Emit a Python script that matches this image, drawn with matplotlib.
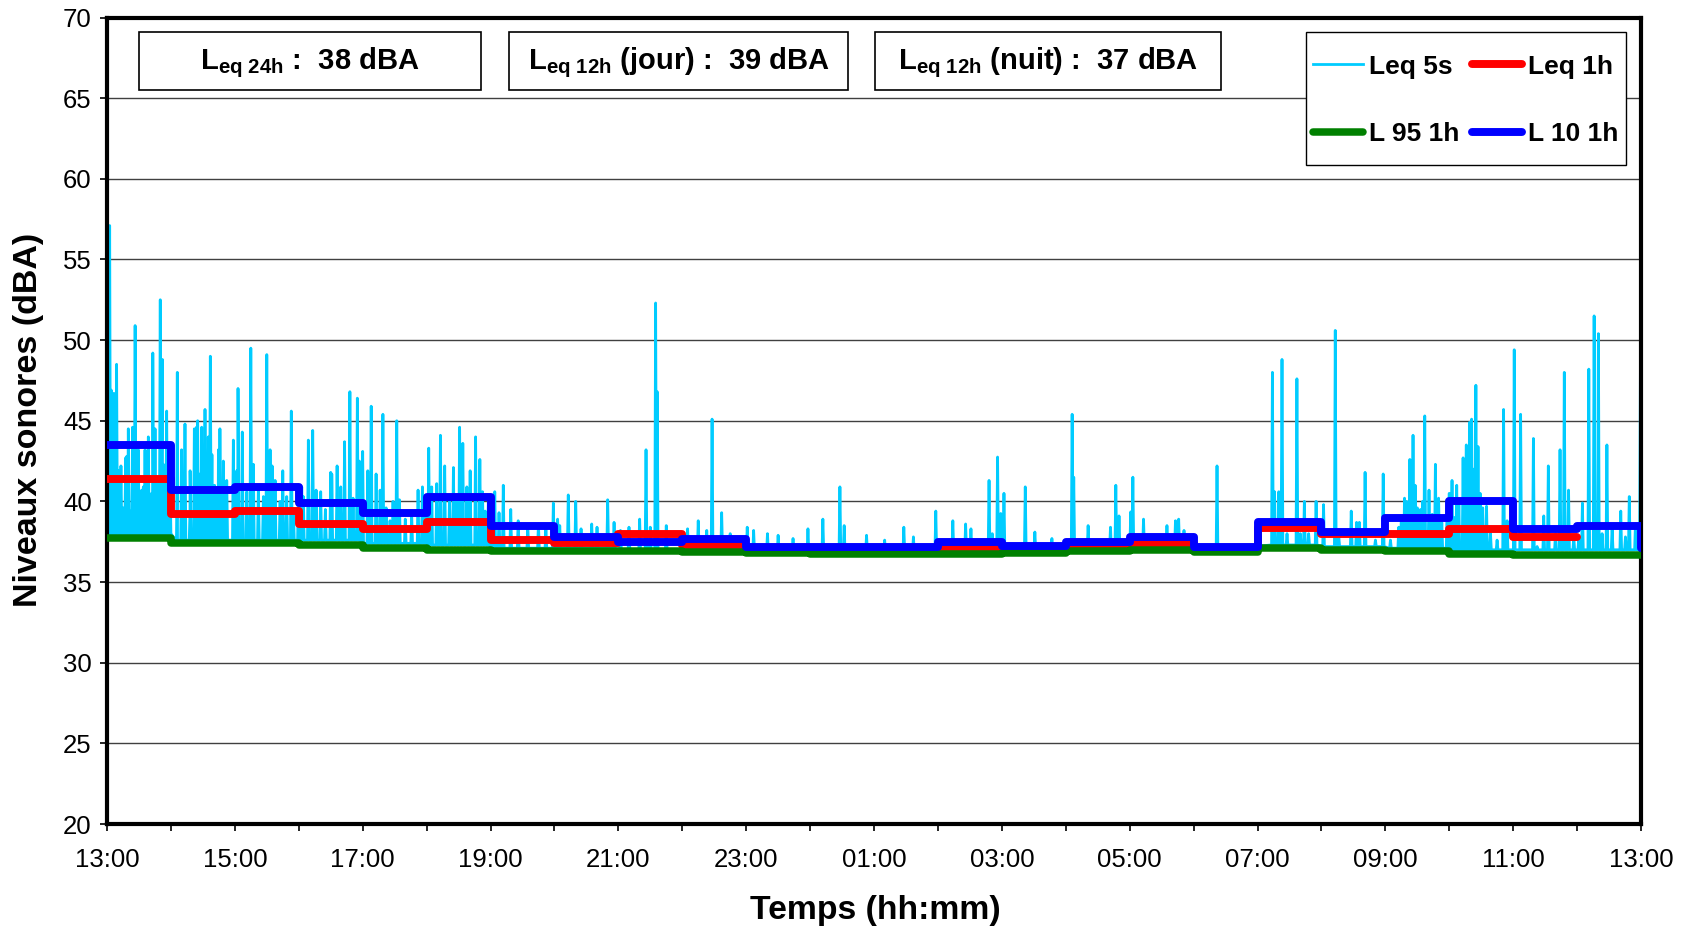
import numpy as np
import matplotlib.pyplot as plt
from matplotlib.patches import Rectangle

plt.rcParams['font.family'] = ['Liberation Sans', 'DejaVu Sans']
plt.rcParams['mathtext.fontset'] = 'custom'
plt.rcParams['mathtext.rm'] = 'Liberation Sans:bold'
plt.rcParams['mathtext.it'] = 'Liberation Sans:bold'
plt.rcParams['mathtext.bf'] = 'Liberation Sans:bold'

# temps en minutes depuis 13:00
heures = np.arange(0, 24 * 60 + 1, 60)
ticks_min = np.arange(0, 24 * 60 + 1, 120)
tick_labels = ["13:00", "15:00", "17:00", "19:00", "21:00", "23:00", "01:00",
               "03:00", "05:00", "07:00", "09:00", "11:00", "13:00"]

# indices horaires (13h -> 12h), + valeur finale a 13h
l10_1h = [43.5, 40.7, 40.9, 39.9, 39.3, 40.3, 38.5, 37.8, 37.5, 37.65, 37.2, 37.2,
          37.2, 37.5, 37.25, 37.5, 37.8, 37.2, 38.7, 38.1, 39.0, 40.0, 38.3, 38.45, 37.1]
leq_1h = [41.4, 39.2, 39.4, 38.6, 38.3, 38.7, 37.6, 37.4, 38.0, 37.3, 37.0, 37.05,
          37.0, 37.15, 37.0, 37.25, 37.35, 37.0, 38.35, 38.0, 38.0, 38.3, 37.8]
l95_1h = [37.7, 37.4, 37.4, 37.3, 37.1, 37.0, 36.9, 36.9, 36.9, 36.85, 36.8, 36.75,
          36.75, 36.75, 36.8, 36.9, 37.0, 36.85, 37.1, 37.0, 36.9, 36.75, 36.7, 36.7, 36.7]

# niveau de fond du Leq 5s par heure
fond_5s = [38.0, 37.6, 37.6, 37.6, 37.4, 37.3, 37.1, 37.1, 37.0, 37.0, 36.9, 36.9,
           36.9, 37.0, 37.0, 37.1, 37.2, 37.0, 37.3, 37.2, 37.1, 37.0, 37.0, 37.0]

# pics du Leq 5s (minute, dBA)
pics_13_16 = [(2.5, 57.1), (4, 46.9), (5.0, 42.5), (6.5, 46.7), (9, 48.5), (10.6, 41.9),
              (13.1, 42.2), (15.3, 39.6), (17.5, 42.7), (18.6, 42.8), (20.0, 44.5),
              (21.6, 39.4), (24, 44.6), (26.4, 50.9), (29.4, 43.2), (32.6, 40.7),
              (34.1, 40.9), (35.7, 43.2), (37.3, 40.3), (38.8, 44.0), (41.9, 40.5),
              (43, 49.2), (45.1, 44.5), (47.6, 41.1), (50, 52.5), (51.3, 43.0), (52, 48.8),
              (52.9, 42.3), (56, 45.6), (59.2, 41.5), (65.4, 39.1), (66, 48.0), (70, 43.2),
              (73.2, 44.8), (77.9, 39.4), (78.0, 41.9), (82.0, 44.5), (84, 44.6),
              (85.1, 45.0), (87.3, 41.7), (88.9, 44.6), (92, 45.7), (95.1, 44.0), (97, 49.0),
              (98.5, 42.9), (99.9, 40.3), (101, 41.0), (103.5, 40.8), (104.6, 43.2),
              (106, 44.5), (109.2, 42.5), (112.4, 41.3), (118.6, 43.8), (121.8, 41.9),
              (123, 47.0), (127, 44.3), (131.2, 40.6), (135, 49.5), (137.4, 42.3),
              (142.1, 40.9), (146.8, 40.3), (150, 49.1), (153.1, 43.2), (155, 42.2),
              (157.8, 41.3), (162.5, 40.0), (165, 41.9), (168.7, 40.3), (173, 45.6),
              (175.0, 39.4), (179.7, 40.9)]
pics_16_19 = [(182.8, 40.9), (184.3, 40.3), (189, 43.8), (193.1, 44.4), (196.3, 40.7),
              (200.6, 40.6), (205, 39.5), (210, 41.8), (211.0, 41.7), (216, 42.2),
              (219.4, 40.9), (223, 43.7), (228, 46.8), (231, 40.2), (235, 46.4),
              (236.9, 42.5), (240, 43.1), (244.8, 41.9), (248, 45.9), (252.6, 41.7),
              (256.4, 40.7), (259, 45.4), (262, 39.6), (265.7, 38.8), (268.5, 40.0),
              (272, 45.0), (274.5, 40.1), (280, 38.9), (286, 39.2), (292, 40.7),
              (296.1, 40.9), (299, 39.5), (302, 43.3), (304.8, 40.9), (309.5, 41.1),
              (313, 44.1), (317, 42.2), (321.5, 40.1), (325.2, 42.1), (328, 40.3),
              (331, 44.6), (334, 43.6), (337.8, 40.9), (340.9, 41.9), (346, 44.0),
              (350, 42.6), (352.5, 40.6), (355.0, 39.4), (358, 40.2), (361.2, 39.8)]
pics_19_01 = [(364, 40.6), (368, 39.3), (372, 41.0), (379, 39.5), (386, 38.8), (395, 38.5),
              (405, 38.6), (412, 38.3), (419, 39.9), (423, 38.9), (425, 38.5), (433, 40.4),
              (440, 40.0), (445, 38.3), (455, 38.6), (460, 38.4), (470, 40.1), (476, 38.7),
              (482, 38.2), (490, 38.4), (500, 38.9), (506, 43.2), (510, 38.4), (515, 52.3),
              (516.5, 46.8), (525, 38.5), (545, 38.3), (555, 38.8), (563, 38.2), (568, 45.1),
              (577, 39.3), (585, 38.0), (601, 38.4), (607, 38.2), (620, 38.0), (630, 37.9),
              (644, 37.7), (658, 38.3), (672, 38.9), (688, 40.9), (692, 38.5), (713, 37.9)]
pics_01_07 = [(730, 37.6), (748, 38.4), (757, 37.8), (778, 39.4), (794, 38.8), (806, 38.6),
              (811, 38.3), (828, 41.3), (831, 38.0), (836, 42.75), (839, 39.25), (842, 40.5),
              (862, 40.9), (871, 38.1), (887, 37.7), (906, 45.4), (907.5, 41.5), (921, 38.5),
              (942, 38.4), (947, 41.0), (950, 39.1), (961, 39.35), (963, 41.5), (973, 38.9),
              (995, 38.5), (1003, 38.8), (1006, 38.9), (1011, 38.2), (1042, 42.2)]
pics_07_10 = [(1094, 48.0), (1096, 40.6), (1100, 40.6), (1103, 48.8), (1107.7, 38.0),
              (1117, 47.6), (1120.2, 38.0), (1124, 40.0), (1128, 38.0), (1135, 40.0),
              (1142, 39.8), (1153, 50.6), (1156.3, 37.8), (1168, 39.4), (1173, 38.7),
              (1175.6, 38.7), (1181, 41.8), (1190.7, 37.6), (1198, 41.7), (1204.8, 37.6),
              (1212.6, 38.4), (1215, 39.0), (1218, 40.2), (1220, 40.0), (1223, 42.6),
              (1226, 44.1), (1228, 41.0), (1230, 39.6), (1233, 39.5), (1235, 40.0),
              (1237, 45.3), (1241, 40.7), (1244, 39.2), (1247, 42.3), (1250, 40.2),
              (1253, 38.7), (1258, 39.6)]
pics_10_13 = [(1260, 40.5), (1262.6, 41.3), (1265, 39.0), (1267, 41.0), (1269, 40.0),
              (1273, 42.7), (1276, 43.5), (1277, 41.5), (1279, 44.9), (1281, 45.1),
              (1283, 42.0), (1285, 47.2), (1287, 43.4), (1289, 40.5), (1291.4, 39.6),
              (1295, 39.7), (1298.7, 38.0), (1304.9, 37.6), (1311, 45.7), (1314.3, 38.8),
              (1321, 49.4), (1327, 45.4), (1339, 43.9), (1342.5, 37.2), (1348.7, 39.1),
              (1353, 42.2), (1359.7, 38.0), (1364, 43.2), (1368, 48.0), (1372, 40.7),
              (1376.9, 37.8), (1381.6, 37.8), (1385, 39.9), (1391, 48.2), (1396, 51.5),
              (1400, 50.4), (1403.5, 38.0), (1408, 43.5), (1412.9, 38.4), (1421, 39.4),
              (1425.4, 37.8), (1429, 40.3), (1434.8, 38.6), (1439.5, 49.0)]

pics = sorted(pics_13_16 + pics_16_19 + pics_19_01 + pics_01_07 + pics_07_10 + pics_10_13)
pts = [(0.0, fond_5s[0]), (1440.0, fond_5s[-1])]
for t, v in pics:
    f = fond_5s[min(int(t // 60), 23)]
    pts += [(t - 0.8, f), (t, v), (t + 0.8, f)]
pts.sort(key=lambda p: p[0])
t5 = [p[0] for p in pts]
v5 = [p[1] for p in pts]

W, H = 1684, 927
fig = plt.figure(figsize=(W / 100, H / 100), dpi=100)
ax = fig.add_axes([107 / W, 1 - 824 / H, 1534 / W, 806.5 / H])

c5, = ax.plot(t5, v5, color='#00CCFF', lw=2, label='Leq 5s', zorder=2)
r, = ax.plot(heures[:24], leq_1h + [leq_1h[-1]], drawstyle='steps-post', color='#FF0000',
             lw=5.7, solid_joinstyle='round', solid_capstyle='round', label='Leq 1h', zorder=3)
g, = ax.plot(heures, l95_1h, drawstyle='steps-post', color='#008000', lw=5.4,
             solid_joinstyle='round', solid_capstyle='round', label='L 95 1h', zorder=3)
b, = ax.plot(heures, l10_1h, drawstyle='steps-post', color='#0000FF', lw=5.7,
             solid_joinstyle='round', solid_capstyle='round', label='L 10 1h', zorder=4)

ax.set_xlim(0, 1440)
ax.set_ylim(20, 70)
ax.set_yticks(np.arange(20, 71, 5))
ax.set_xticks(ticks_min)
ax.set_xticklabels(tick_labels)
ax.set_xticks(heures, minor=True)
ax.yaxis.grid(True, color='#404040', lw=1)
ax.set_axisbelow(True)
for s in ax.spines.values():
    s.set_linewidth(3)
ax.tick_params(axis='both', which='both', direction='out', length=5, width=1.2,
               labelsize=18.5)
ax.tick_params(axis='x', pad=12.5)
ax.tick_params(axis='y', pad=6)

# cadre de la légende
fig.patches.append(Rectangle((1306 / W, 1 - 165 / H), 320 / W, 133 / H,
                             transform=fig.transFigure, fc='white', ec='black',
                             lw=1, zorder=5))
leg = fig.legend(handles=[c5, g, r, b], ncol=2, loc='center',
                 bbox_to_anchor=(1465.5 / W, 1 - 100.5 / H), bbox_transform=fig.transFigure,
                 borderaxespad=0, borderpad=0, prop={'weight': 'bold', 'size': 19},
                 handlelength=1.9, handletextpad=0.2, columnspacing=0.5,
                 labelspacing=1.66, frameon=False)
leg.set_zorder(6)

boites = [(139, 481, r"L$_{eq\ 24h}$ :  38 dBA"),
          (509, 848, r"L$_{eq\ 12h}$ (jour) :  39 dBA"),
          (875, 1221, r"L$_{eq\ 12h}$ (nuit) :  37 dBA")]
for x0, x1, txt in boites:
    fig.patches.append(Rectangle((x0 / W, 1 - 90 / H), (x1 - x0) / W, 58 / H,
                                 transform=fig.transFigure, fc='white', ec='black',
                                 lw=1.2, zorder=5))
    fig.text((x0 + x1) / 2 / W, 1 - 63 / H, txt, ha='center', va='center',
             fontsize=21, fontweight='bold', zorder=6)

fig.text(29 / W, 1 - 420 / H, 'Niveaux sonores (dBA)', rotation=90, ha='center',
         va='center', fontsize=24.5, fontweight='bold')
fig.text(875 / W, 1 - 910 / H, 'Temps (hh:mm)', ha='center', va='center',
         fontsize=24.3, fontweight='bold')

fig.savefig('out.png', dpi=100)
